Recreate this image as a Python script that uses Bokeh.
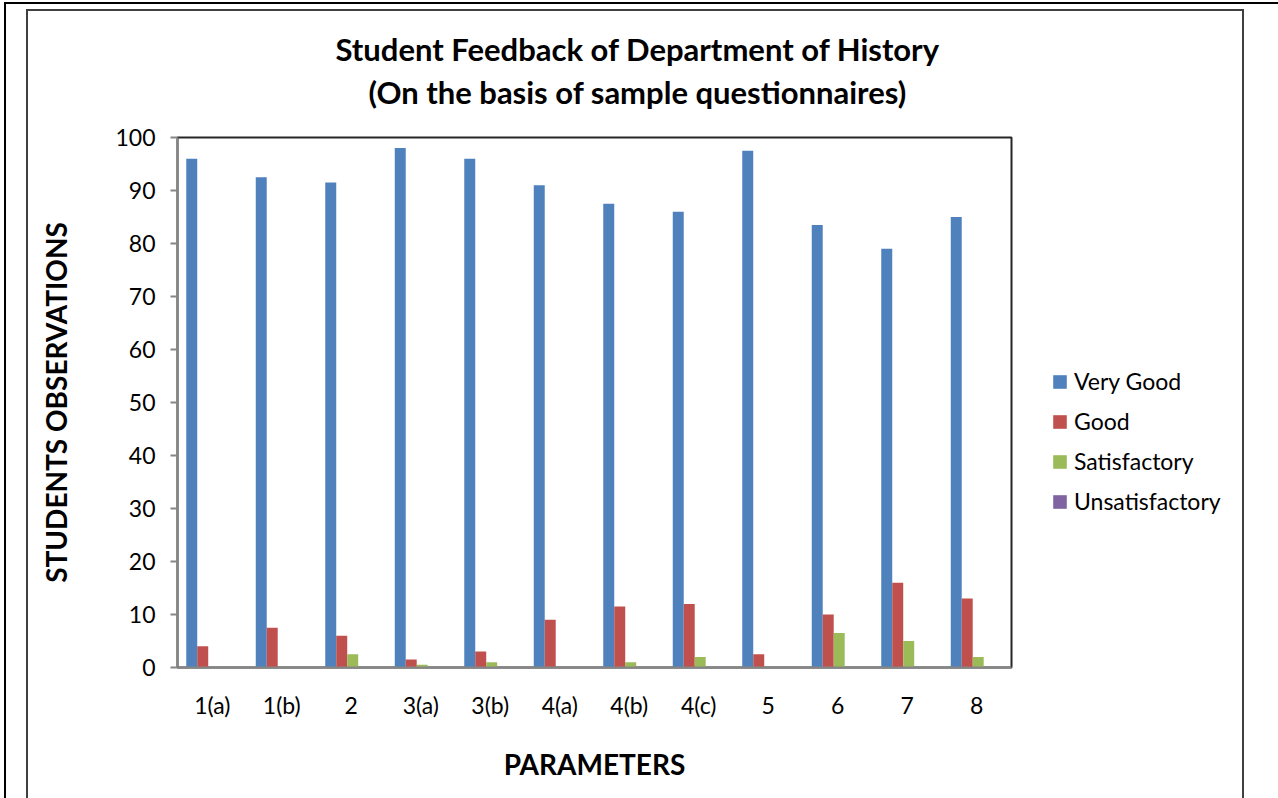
from bokeh.plotting import figure
from bokeh.models import (FactorRange, Range1d, ColumnDataSource, Legend, LegendItem,
                          Title, FixedTicker, InlineStyleSheet)
from bokeh.transform import dodge
from bokeh.embed import file_html
from bokeh.resources import INLINE

categories = ["1(a)", "1(b)", "2", "3(a)", "3(b)", "4(a)", "4(b)", "4(c)", "5", "6", "7", "8"]
very_good = [96, 92.5, 91.5, 98, 96, 91, 87.5, 86, 97.5, 83.5, 79, 85]
good = [4, 7.5, 6, 1.5, 3, 9, 11.5, 12, 2.5, 10, 16, 13]
satisfactory = [0, 0, 2.5, 0.5, 1, 0, 1, 2, 0, 6.5, 5, 2]
unsatisfactory = [0, 0, 0, 0, 0, 0, 0, 0, 0, 0, 0, 0]
series_names = ["Very Good", "Good", "Satisfactory", "Unsatisfactory"]
y_ticks = [0, 10, 20, 30, 40, 50, 60, 70, 80, 90, 100]

colors = ["#4F81BD", "#C0504D", "#9BBB59", "#8064A2"]
offsets = [-0.295, -0.137, 0.021, 0.179]
FONT = "Lato"

src = ColumnDataSource(dict(x=categories, vg=very_good, g=good, s=satisfactory, u=unsatisfactory))

p = figure(x_range=FactorRange(*categories, range_padding=0), y_range=Range1d(0, 100),
           frame_width=834, frame_height=530, output_backend="svg", toolbar_location=None,
           min_border_left=177, min_border_right=265, min_border_top=137, min_border_bottom=129)

renderers = []
for col, c, off in zip(["vg", "g", "s", "u"], colors, offsets):
    r = p.vbar(x=dodge("x", off, range=p.x_range), top=col, width=0.158, source=src,
               fill_color=c, line_color=None)
    renderers.append(r)

p.xgrid.visible = False
p.ygrid.visible = False
p.outline_line_color = "#262626"
p.outline_line_width = 2
p.background_fill_color = "white"
p.border_fill_color = "white"

# axes
p.yaxis.ticker = FixedTicker(ticks=y_ticks)
for ax in (p.xaxis[0], p.yaxis[0]):
    ax.axis_line_color = "#868686"
    ax.axis_line_width = 2
    ax.major_label_text_font = FONT
    ax.major_label_text_font_size = "23px"
    ax.major_label_text_color = "#000000"
    ax.axis_label_text_font = FONT
    ax.axis_label_text_font_style = "bold"
    ax.axis_label_text_font_size = "28px"
    ax.axis_label_text_color = "#000000"
    ax.minor_tick_line_color = None

p.yaxis.major_tick_line_color = "#868686"
p.yaxis.major_tick_line_width = 2
p.yaxis.major_tick_out = 7
p.yaxis.major_tick_in = 0
p.yaxis.major_label_standoff = 15
p.yaxis.axis_label = "STUDENTS OBSERVATIONS"
p.yaxis.axis_label_standoff = 39

p.xaxis.major_tick_line_color = None
p.xaxis.major_label_standoff = 17
p.xaxis.axis_label = "PARAMETERS"
p.xaxis.axis_label_standoff = 25

# titles: stacked outward from the frame (spacer, line 2, line 1)
spacer = Title(text=" ", text_font=FONT, text_font_size="10px", standoff=10)
t2 = Title(text="(On the basis of sample questionnaires)", align="left", offset=191,
           text_font=FONT, text_font_style="bold", text_font_size="31px", standoff=6,
           text_color="#000000")
t1 = Title(text="Student Feedback of Department of History", align="left", offset=158,
           text_font=FONT, text_font_style="bold", text_font_size="31px", standoff=0,
           text_color="#000000")
p.add_layout(spacer, "above")
p.add_layout(t2, "above")
p.add_layout(t1, "above")

legend = Legend(items=[LegendItem(label=n, renderers=[r]) for n, r in zip(series_names, renderers)],
                location="center_left", border_line_color=None, background_fill_alpha=0,
                label_text_font=FONT, label_text_font_size="23px", label_text_color="#000000",
                glyph_width=17, glyph_height=17, label_standoff=6, spacing=12, padding=0,
                margin=40, label_height=20,
                title=" ", title_text_font_size="22px", title_standoff=52)
p.add_layout(legend, "right")

p.stylesheets.append(InlineStyleSheet(css="""
:host::before { content: ""; position: absolute; box-sizing: border-box; left: 4px; top: 2px;
  width: 1274px; height: 796px; border-top: 2px solid #000; border-left: 2px solid #000;
  pointer-events: none; z-index: 100; }
:host::after { content: ""; position: absolute; box-sizing: border-box; left: 26px; top: 9px;
  width: 1218px; height: 789px; border: 2px solid #404040; border-bottom: none;
  pointer-events: none; z-index: 100; }
"""))

open("out.html", "w").write(file_html(p, INLINE))
